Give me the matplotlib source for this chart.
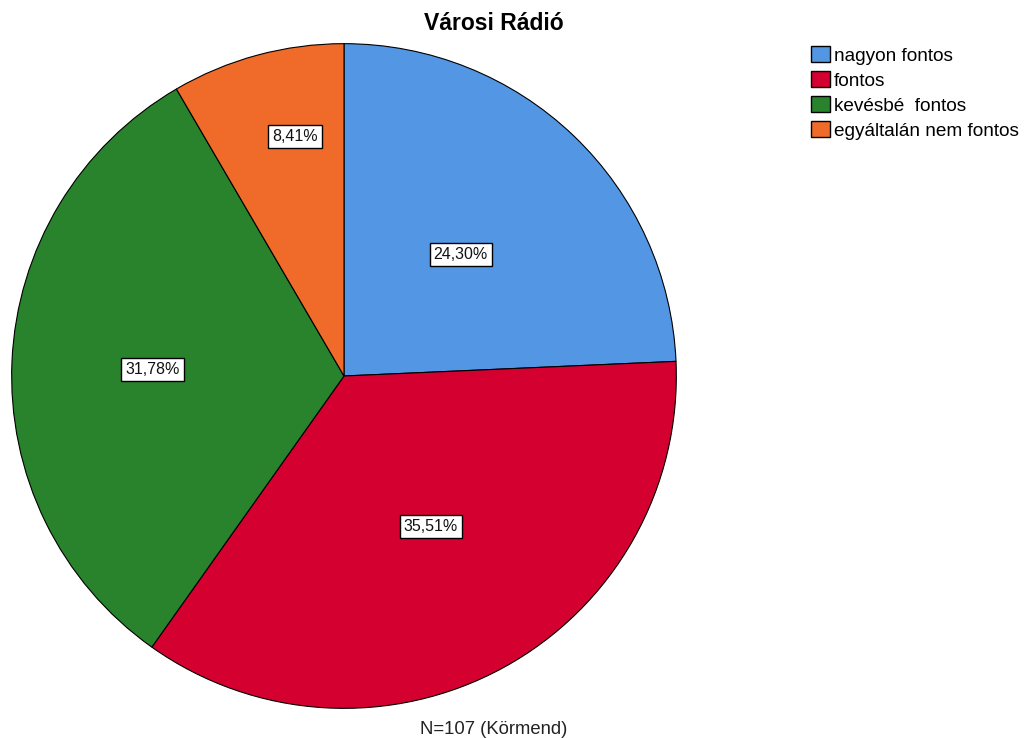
import numpy as np
import matplotlib.pyplot as plt
from matplotlib.patches import Patch

plt.rcParams['font.family'] = ['Liberation Sans', 'DejaVu Sans']

# data ----------------------------------------------------------------
categories = ['nagyon fontos', 'fontos', 'kevésbé  fontos', 'egyáltalán nem fontos']
counts = [26, 38, 34, 9]
colors = ['#5396E3', '#D30030', '#29822C', '#F06B2A']
# label placement inside the slices (fraction of radius, angle shift in deg)
label_radius = [0.508, 0.524, 0.577, 0.735]
label_shift = [0.0, 1.4, 0.7, -3.6]

total = sum(counts)
pct = [c / total * 100 for c in counts]

# plot ----------------------------------------------------------------
fig = plt.figure(figsize=(10.24, 7.38), dpi=100)
ax = fig.add_axes([11 / 1024, 29 / 738, 666 / 1024, 666 / 738])

wedges, _ = ax.pie(counts, colors=colors, startangle=90, counterclock=False,
                   radius=1, wedgeprops=dict(edgecolor='black', linewidth=0.8))
ax.set_aspect('equal')
ax.set_xlim(-1.002, 1.002)
ax.set_ylim(-1.002, 1.002)
ax.axis('off')

# labels near the mid angle of each wedge
for w, p, r, s in zip(wedges, pct, label_radius, label_shift):
    mid = np.deg2rad((w.theta1 + w.theta2) / 2 + s)
    txt = f'{p:.2f}%'.replace('.', ',')
    ax.text(r * np.cos(mid), r * np.sin(mid), txt, ha='center', va='center',
            fontsize=11.5, color='#111111',
            bbox=dict(boxstyle='square,pad=0.25', facecolor='white',
                      edgecolor='black', linewidth=1.0))

fig.text(494 / 1024, 1 - 24 / 738, 'Városi Rádió', ha='center', va='center',
         fontsize=16.5, fontweight='bold')
fig.text(494 / 1024, 1 - 729 / 738, 'N=107 (Körmend)', ha='center', va='center',
         fontsize=13.3, color='#222222')

handles = [Patch(facecolor=c, edgecolor='black', linewidth=1.0) for c in colors]
fig.legend(handles, categories, loc='upper left', bbox_to_anchor=(811 / 1024, 1 - 46 / 738),
           frameon=False, fontsize=13.7, handlelength=1.0, handleheight=0.95,
           handletextpad=0.2, labelspacing=0.33, borderpad=0, borderaxespad=0)

plt.savefig('out.png', dpi=100)
